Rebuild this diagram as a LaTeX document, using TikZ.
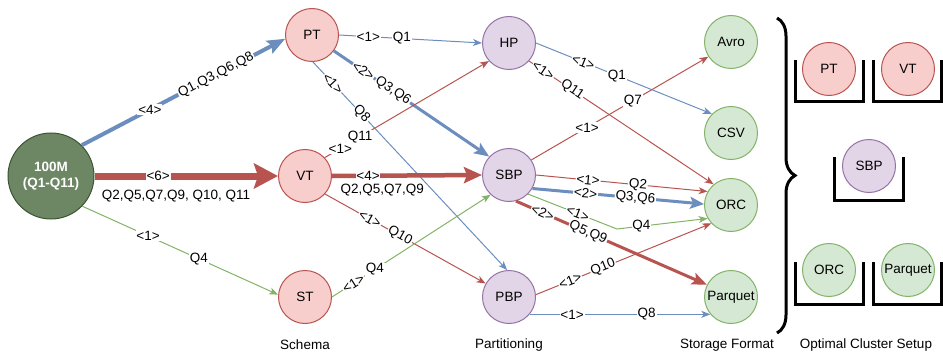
\documentclass[tikz,border=0pt]{standalone}
\usepackage{fontspec}
\setmainfont{Liberation Sans}
\usetikzlibrary{arrows.meta,decorations.pathreplacing}

\definecolor{eblue}{HTML}{6C8EBF}
\definecolor{ered}{HTML}{B85450}
\definecolor{egreen}{HTML}{82B366}
\definecolor{redfill}{HTML}{F8CECC}
\definecolor{purfill}{HTML}{E1D5E7}
\definecolor{purline}{HTML}{9673A6}
\definecolor{grnfill}{HTML}{D5E8D4}
\definecolor{darkfill}{HTML}{6D8764}
\definecolor{darkline}{HTML}{3A5431}

\begin{document}
\begin{tikzpicture}[x=1pt,y=-1pt,
  font=\fontsize{13.5}{15}\selectfont,
  circ/.style={circle, minimum size=53pt, inner sep=0pt, line width=1pt, text=black},
  schema/.style={circ, fill=redfill, draw=ered},
  part/.style={circ, fill=purfill, draw=purline},
  fmt/.style={circ, fill=grnfill, draw=egreen},
  src/.style={circle, minimum size=86pt, inner sep=0pt, line width=1pt,
    fill=darkfill, draw=darkline, text=white, align=center,
    font=\fontsize{13.5}{16}\selectfont\bfseries},
  lbl/.style={fill=white, inner sep=0.8pt, text=black},
  under/.style={fill=none, anchor=north, inner sep=0pt, text=black},
  thin/.style={line width=1pt, -{Stealth[length=9pt,width=7pt,inset=2.5pt]}},
  mid/.style={line width=3pt, -{Stealth[length=15pt,width=12pt,inset=3pt]}},
  heavy/.style={line width=4.5pt, -{Stealth[length=18pt,width=16pt,inset=3pt]}},
  huge/.style={line width=7pt, -{Stealth[length=24pt,width=25pt,inset=4pt]}},
  bucket/.style={line width=3pt, black, line join=miter},
  caption/.style={inner sep=0pt}
]
\useasboundingbox (0,0) rectangle (943,353);

% source and the three layers
\node[src] (M) at (51,176) {100M\\(Q1-Q11)};

\node[schema] (PT) at (312,35) {PT};
\node[schema] (VT) at (305,176) {VT};
\node[schema] (ST) at (305,297) {ST};

\node[part] (HP) at (509,43) {HP};
\node[part] (SBP) at (509,175) {SBP};
\node[part] (PBP) at (509,297) {PBP};

\node[fmt] (Avro) at (731,42) {Avro};
\node[fmt] (CSV) at (731,133) {CSV};
\node[fmt] (ORC) at (731,205) {ORC};
\node[fmt] (Parquet) at (731,297) {Parquet};

% source -> schema
\draw[eblue, line width=4pt, -{Stealth[length=18pt,width=14pt,inset=3pt]}] (M.45) -- node[lbl, pos=0.335] {<4>} node[lbl, pos=0.66, sloped] {Q1,Q3,Q6,Q8} (PT.188);
\draw[ered, huge] (M.east) -- node[lbl, pos=0.347] {<6>} node[under, pos=0.444, yshift=-11pt] {Q2,Q5,Q7,Q9, Q10, Q11} (VT.west);
\draw[egreen, thin] (M.-44) -- node[lbl, pos=0.336] {<1>} node[lbl, pos=0.596] {Q4} (ST.175);

% schema -> partitioning
\draw[eblue, thin] (PT.east) -- node[lbl, pos=0.205] {<1>} node[lbl, pos=0.44] {Q1} (HP.west);
\draw[eblue, mid] (PT.-36) -- node[lbl, pos=0.19, sloped] {<2>} node[lbl, pos=0.38, sloped] {Q3,Q6} (SBP.137);
\draw[eblue, thin] (PT.-88) -- node[lbl, pos=0.103, sloped] {<1>} node[lbl, pos=0.25, sloped] {Q8} (PBP.94);
\draw[ered, thin] (VT.43) -- node[lbl, pos=0.095] {<1>} node[lbl, pos=0.215] {Q11} (HP.-138);
\draw[ered, heavy] (VT.east) -- node[lbl, pos=0.24] {<4>} node[under, pos=0.335, yshift=-6pt] {Q2,Q5,Q7,Q9} (SBP.west);
\draw[ered, thin] (VT.-42) -- node[lbl, pos=0.28, sloped] {<1>} node[lbl, pos=0.467, sloped] {Q10} (PBP.150);
\draw[egreen, thin] (ST.east) -- node[lbl, pos=0.135, sloped] {<1>} node[lbl, pos=0.27] {Q4} (SBP.-133);

% partitioning -> storage format
\draw[eblue, thin] (HP.east) -- node[lbl, pos=0.27, sloped] {<1>} node[lbl, pos=0.46] {Q1} (CSV.135);
\draw[ered, thin] (HP.-42) -- node[lbl, pos=0.077, sloped] {<1>} node[lbl, pos=0.234, sloped] {Q11} (ORC.130);
\draw[ered, thin] (SBP.34) -- node[lbl, pos=0.315] {<1>} node[lbl, pos=0.574] {Q7} (Avro.213);
\draw[ered, thin] (SBP.east) -- node[lbl, pos=0.304, sloped] {<1>} node[lbl, pos=0.594, sloped] {Q2} (ORC.150);
\draw[eblue, line width=3pt, -{Stealth[length=14pt,width=12pt,inset=3pt]}] (SBP.-30) -- node[lbl, pos=0.31, sloped] {<2>} node[lbl, pos=0.6, sloped] {Q3,Q6} (ORC.178);
\coordinate (q4bend) at (617,229);
\draw[egreen, thin] (SBP.-45) -- node[lbl, pos=0.56, sloped] {<1>} (q4bend) -- node[lbl, pos=0.27] {Q4} (ORC.-150);
\draw[ered, mid] (SBP.-75) -- node[lbl, pos=0.14, sloped] {<2>} node[lbl, pos=0.377, sloped] {Q5,Q9} (Parquet.153);
\draw[ered, thin] (PBP.5) -- node[lbl, pos=0.196, sloped] {<1>} node[lbl, pos=0.383, sloped] {Q10} (ORC.-137);
\draw[eblue, thin] (PBP.-40) -- node[lbl, pos=0.235] {<1>} node[lbl, pos=0.648] {Q8} (Parquet.-140);

% column captions
\node[caption] (capSchema) at (305,345) {Schema};
\node[caption] (capPart) at (509,345) {Partitioning};
\node[caption] (capFmt) at (727,345) {Storage Format};
\node[caption] (capSetup) at (866,345) {Optimal Cluster Setup};

% brace and the optimal setup
\draw[line width=3pt, decorate, decoration={brace, amplitude=18pt}] (777,18) -- (777,333);

\draw[bucket] (795,60) -- (795,102) -- (863,102) -- (863,60);
\draw[bucket] (873,60) -- (873,102) -- (941,102) -- (941,60);
\draw[bucket] (834,157) -- (834,200) -- (903,200) -- (903,157);
\draw[bucket] (795,262) -- (795,304) -- (863,304) -- (863,262);
\draw[bucket] (873,262) -- (873,304) -- (941,304) -- (941,262);

\node[schema] (optPT) at (829,69) {PT};
\node[schema] (optVT) at (908,69) {VT};
\node[part] (optSBP) at (869,166) {SBP};
\node[fmt] (optORC) at (829,270) {ORC};
\node[fmt] (optParquet) at (908,270) {Parquet};
\end{tikzpicture}
\end{document}
